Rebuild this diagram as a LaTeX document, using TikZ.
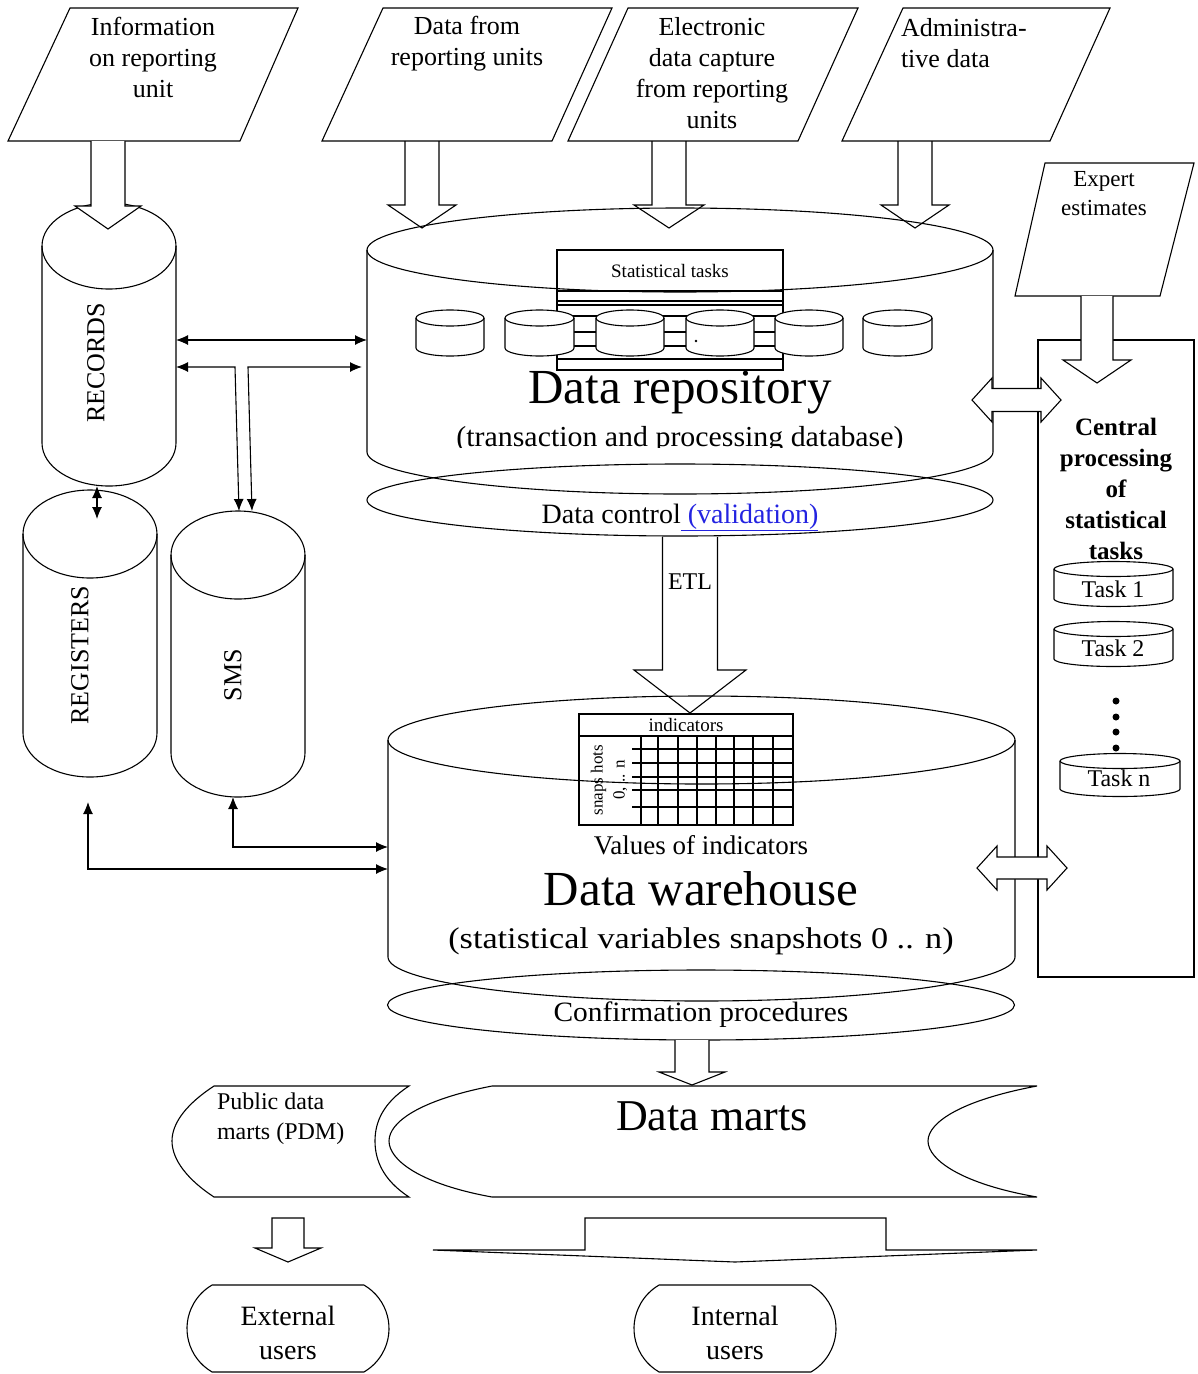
\documentclass[tikz,border=0pt]{standalone}
\usepackage{fontspec}
\setmainfont{Liberation Serif}
\usetikzlibrary{arrows.meta,shapes.misc,shapes.geometric,calc}
\definecolor{linkblue}{RGB}{35,35,225}
\newcommand\fs[2]{\fontsize{#1}{#2}\selectfont}
% cylinder: name, left, right, top-centre y, bottom-centre y, y radius
\newcommand\mycyl[6]{%
  \pgfmathsetmacro\cylrx{(#3-#2)/2}%
  \pgfmathsetmacro\cylw{#3-#2}%
  \pgfmathsetmacro\cylh{#5-#4+2*#6}%
  \path[draw,fill=white] (#2,#4) -- (#2,#5) arc[start angle=180,end angle=360,x radius=\cylrx pt,y radius=#6pt] -- (#3,#4) arc[start angle=0,end angle=180,x radius=\cylrx pt,y radius=#6pt] -- cycle;
  \draw (#2,#4) arc[start angle=180,end angle=360,x radius=\cylrx pt,y radius=#6pt];
  \node[minimum width=\cylw pt,minimum height=\cylh pt] (#1) at ({(#2+#3)/2},{(#4+#5)/2}) {};
}
% hollow down arrow: [style] cx, ytop, ybase, ytip, half shaft, half head
\newcommand\hdown[7][]{%
  \draw[#1] ({#2-#6},#3) -- ({#2-#6},#4) -- ({#2-#7},#4) -- (#2,#5) -- ({#2+#7},#4) -- ({#2+#6},#4) -- ({#2+#6},#3);
}
% hollow left-right arrow: x1, x2, yc, head length, half shaft, half head
\newcommand\hlr[6]{%
  \draw[fill=white] (#1,#3) -- ({#1+#4},{#3-#6}) -- ({#1+#4},{#3-#5}) -- ({#2-#4},{#3-#5}) -- ({#2-#4},{#3-#6}) -- (#2,#3) -- ({#2-#4},{#3+#6}) -- ({#2-#4},{#3+#5}) -- ({#1+#4},{#3+#5}) -- ({#1+#4},{#3+#6}) -- cycle;
}
\begin{document}
\begin{tikzpicture}[x=1pt,y=-1pt,line width=1.1pt,
  every node/.style={inner sep=0pt,outer sep=0pt},
  ar/.style={{Latex[length=12pt,width=10pt]}-{Latex[length=12pt,width=10pt]}},
  ptxt/.style={font=\fs{26}{31},align=center},
  mid/.style={font=\fs{28}{32}},
  big/.style={font=\fs{49}{55}},
  tasktxt/.style={font=\fs{24}{28}},
  vtxt/.style={font=\fs{26}{30},rotate=90}]
\useasboundingbox (0,0) rectangle (1198,1374);
\fill[white] (0,0) rectangle (1198,1374);

% ---------- input parallelograms ----------
\draw (70,8) -- (298,8) -- (240,141) -- (8,141) -- cycle;
\node[ptxt] (p1) at (153,57) {Information\\on reporting\\unit};
\draw (383,8) -- (612,8) -- (552,141) -- (322,141) -- cycle;
\node[ptxt] (p2) at (467,44) {Data from\\reporting units};
\draw (628,8) -- (858,8) -- (798,141) -- (568,141) -- cycle;
\node[ptxt] (p3) at (712,73) {Electronic\\data capture\\from reporting\\units};
\draw (903,8) -- (1110,8) -- (1050,141) -- (842,141) -- cycle;
\node[ptxt,align=left,anchor=west] (p4) at (901,43) {Administra-\\tive data};
\draw (1045,163) -- (1194,163) -- (1160,296) -- (1015,296) -- cycle;
\node[font=\fs{23}{29},align=center] (p5) at (1104,194) {Expert\\estimates};

% ---------- cylinders ----------
\mycyl{rec}{42}{176}{246}{443}{43}
\node[vtxt] (rect) at (96,363) {RECORDS};
\mycyl{reg}{23}{157}{534}{733}{44}
\node[vtxt] (regt) at (80,655) {REGISTERS};
\mycyl{sms}{171}{305}{555}{753}{44}
\node[vtxt] (smst) at (233,675) {SMS};
\mycyl{repo}{367}{993}{250}{452}{42}
\mycyl{wh}{388}{1015}{740}{957}{44}

% ---------- repository content ----------
\draw (557,250) rectangle (783,370);
\foreach \yy in {291,301,305,316,332,346,359} \draw (557,\yy) -- (783,\yy);
\node[font=\fs{19}{22}] (stt) at (670,271) {Statistical tasks};
\mycyl{s1}{416}{484}{318}{348}{8}
\mycyl{s2}{505}{574}{318}{348}{8}
\mycyl{s3}{596}{664}{318}{348}{8}
\mycyl{s4}{686}{754}{318}{348}{8}
\mycyl{s5}{775}{843}{318}{348}{8}
\mycyl{s6}{863}{932}{318}{348}{8}
\fill (696,341) circle (1.3pt);
\node[big,anchor=base] (rt) at (680,403) {Data repository};
\begin{scope}
  \clip (380,410) rectangle (980,447);
  \node[font=\fs{29}{33},anchor=base] (rsub) at (680,446) {\scalebox{1.03}[1]{(transaction and processing database)}};
\end{scope}
\node[draw,ellipse,minimum width=626pt,minimum height=72pt] (dc) at (680,500) {};
\node[mid,anchor=base] (dct) at (680,523) {Data control\textcolor{linkblue}{\underline{\ (validation)}}};

% ---------- ETL ----------
\hdown{690}{537}{670}{713}{27.5}{56}
\node[font=\fs{24}{28}] (etl) at (690,582) {ETL};

% ---------- warehouse content ----------
\draw (579,714) rectangle (793,736);
\node[font=\fs{19}{22}] (ind) at (686,725) {indicators};
\draw (579,736) rectangle (793,825);
\foreach \xx in {641,658,678,697,716,734,753,773} \draw (\xx,736) -- (\xx,825);
\foreach \yy in {749,763,777,790,807} \draw (632,\yy) -- (793,\yy);
\node[font=\fs{17}{22},rotate=90,align=center] (snap) at (609,780) {snaps hots\\0, .. n};
\node[font=\fs{27}{30},anchor=base] (voi) at (701,854) {Values of indicators};
\node[big,anchor=base] (wht) at (701,905) {Data warehouse};
\node[font=\fs{30}{34},anchor=base] (whs) at (701,948) {\scalebox{1.14}[1]{(statistical variables snapshots 0 .. n)}};
\node[draw,ellipse,minimum width=627pt,minimum height=70pt] (conf) at (701,1005) {};
\node[font=\fs{28}{32},anchor=base] (conft) at (701,1021) {\scalebox{1.05}[1]{Confirmation procedures}};

% ---------- central processing ----------
\node[draw,minimum width=156pt,minimum height=637pt] (cp) at (1116,658.5) {};
\node[font=\bfseries\fs{25}{31},align=center] (cpt) at (1116,489) {Central\\processing\\of\\statistical\\tasks};
\mycyl{t1}{1054}{1173}{569}{599}{7.5}
\node[tasktxt] (t1t) at (1113,589) {Task 1};
\mycyl{t2}{1054}{1173}{629}{659}{7.5}
\node[tasktxt] (t2t) at (1113,648) {Task 2};
\foreach \yy in {701,717,732,748} \fill (1116,\yy) circle (3.5pt);
\mycyl{tn}{1060}{1180}{761}{789}{7.5}
\node[tasktxt] (tnt) at (1119,778) {Task n};

% ---------- block arrows ----------
\hdown[fill=white]{108}{141}{206}{229}{17}{33}
\hdown{422}{141}{205}{228}{17}{34}
\hdown{669}{141}{205}{228}{17}{35}
\hdown{915}{141}{205}{228}{17}{34}
\hdown[fill=white]{1097}{296}{360}{383}{16}{34}
\hlr{972}{1061}{400}{20}{11.5}{22}
\hlr{977}{1067}{868}{20}{11}{22}
\hdown[fill=white]{692}{1040}{1072}{1085}{17}{33}

% ---------- connectors ----------
\draw[ar] (rec.east |- 0,340) -- (repo.west |- 0,340);
\draw[ar] (rec.east |- 0,367) -- (235,367) -- ($(sms.north)+(1,0)$);
\draw[ar] ($(repo.west |- 0,367)+(-5,0)$) -- (248,367) -- ($(sms.north)+(14,0)$);
\draw[ar] (rec.south -| 97,0) -- ($(reg.north -| 97,0)+(0,29)$);
\draw[ar] ($(sms.south)+(-5,0)$) -- ($(sms.south |- 0,847)+(-5,0)$) -- (wh.west |- 0,847);
\draw[ar] ($(reg.south)+(-2,25)$) -- (88,869) -- (wh.west |- 0,869);

% ---------- data marts ----------
\draw (214,1086) -- (409,1086) .. controls (383,1103) and (375,1122) .. (375,1141)
  .. controls (375,1160) and (383,1180) .. (409,1197) -- (214,1197)
  .. controls (188,1180) and (172,1160) .. (172,1141)
  .. controls (172,1122) and (188,1103) .. (214,1086) -- cycle;
\node[font=\fs{24}{30},align=left,anchor=north west] (pdm) at (217,1093) {Public data\\marts (PDM)};
\draw (492,1086) -- (1037,1086) .. controls (962,1100) and (928,1122) .. (928,1141)
  .. controls (928,1160) and (962,1184) .. (1037,1197) -- (492,1197)
  .. controls (420,1184) and (389,1160) .. (389,1141)
  .. controls (389,1122) and (420,1100) .. (492,1086) -- cycle;
\node[font=\fs{44}{50}] (dm) at (712,1116) {Data marts};

% ---------- output arrows ----------
\draw (272,1218) -- (272,1248) -- (255,1248) -- (288,1262) -- (321,1248) -- (304,1248) -- (304,1218) -- cycle;
\draw (433,1250) -- (585,1250) -- (585,1218) -- (886,1218) -- (886,1250) -- (1037,1250) -- (735,1262) -- cycle;

% ---------- users ----------
\node[draw,rounded rectangle,rounded rectangle arc length=120,minimum width=202pt,minimum height=87pt] (ext) at (288,1328.5) {};
\node[font=\fs{28}{34},align=center] (extt) at (288,1333) {External\\users};
\node[draw,rounded rectangle,rounded rectangle arc length=120,minimum width=202pt,minimum height=87pt] (int) at (735,1328.5) {};
\node[font=\fs{28}{34},align=center] (intt) at (735,1333) {Internal\\users};
\end{tikzpicture}
\end{document}
